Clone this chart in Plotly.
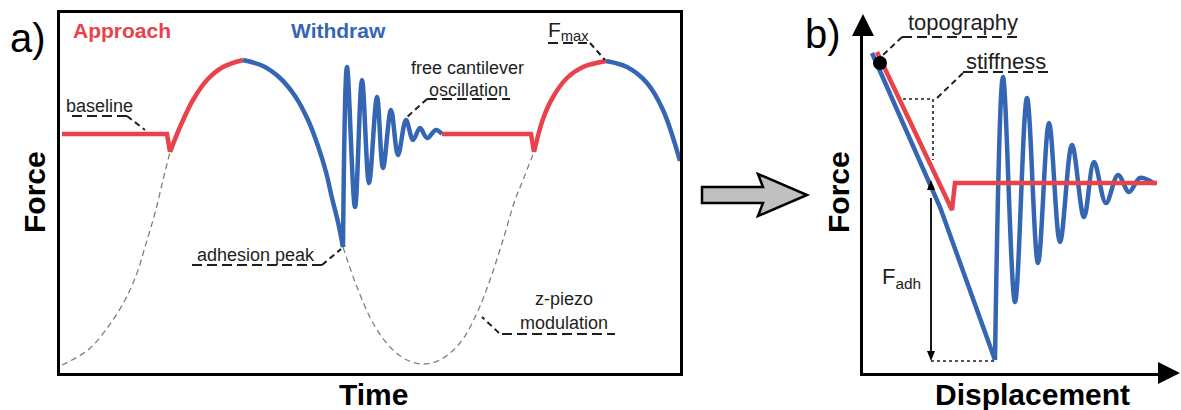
import plotly.graph_objects as go

W, H = 1181, 410
RED = "#e8424b"
BLUE = "#3566b4"
GREY = "#808080"
INK = "#1e1e1e"
FONT = "Liberation Sans, Arial, Helvetica, sans-serif"

# ---------------- Panel a (Time vs Force, arbitrary units) ----------------
piezo_left_t = [2, 28, 48, 65, 77, 85, 95, 103, 110]
piezo_left_f = [8, 23, 46, 73, 100, 126, 160, 193, 221]
piezo_right_t = [283, 297, 313, 330, 347, 363, 380, 400, 417, 430, 443, 455, 463, 474]
piezo_right_f = [126, 86, 50, 26, 13, 9, 13, 30, 60, 93, 133, 173, 193, 221]

base1_t = [2, 107, 110]
base1_f = [239, 239, 221]
approach1_t = [110, 120, 133, 147, 163, 183]
approach1_f = [221, 246, 273, 293, 306, 313]
withdraw1_t = [183, 203, 220, 235, 248, 258, 266, 272, 278, 283]
withdraw1_f = [313, 307, 295, 277, 253, 227, 201, 175, 151, 126]
osc_a_t = [283, 287, 295, 302, 309, 317, 323, 331, 338, 346, 353, 360, 367, 376, 382]
osc_a_f = [126, 306, 166, 293, 190, 276, 205, 263, 218, 253, 233, 245, 235, 243, 239]
base2_t = [382, 471, 474]
base2_f = [239, 239, 221]
approach2_t = [474, 483, 493, 507, 523, 546]
approach2_f = [221, 254, 276, 295, 306, 312]
withdraw2_t = [546, 567, 587, 603, 620]
withdraw2_f = [312, 306, 290, 263, 212]

# ---------------- Panel b (Displacement vs Force) ----------------
approach_b_d = [14, 89, 92, 294]
approach_b_f = [321, 163, 190, 190]
withdraw_b_d = [9, 77, 132]
withdraw_b_f = [320, 166, 13]
osc_b_d = [132, 140, 152, 164, 175, 186, 197, 209, 221, 231, 243, 255, 266, 277, 292]
osc_b_f = [13, 296, 71, 275, 110, 250, 131, 228, 156, 211, 170, 198, 181, 195, 189]
contact_d = [17]
contact_f = [310]

fig = go.Figure()

def add(x, y, color, width=4.5, shape="linear", xa="x", ya="y", dash=None):
    fig.add_trace(go.Scatter(
        x=x, y=y, mode="lines", xaxis=xa, yaxis=ya,
        line=dict(color=color, width=width, shape=shape, smoothing=1.0, dash=dash),
        hoverinfo="skip", showlegend=False))

# panel a traces
add(piezo_left_t, piezo_left_f, GREY, 1.3, "spline", dash="6px,4px")
add(piezo_right_t, piezo_right_f, GREY, 1.3, "spline", dash="6px,4px")
add(base1_t, base1_f, RED)
add(approach1_t, approach1_f, RED, shape="spline")
add(withdraw1_t, withdraw1_f, BLUE, shape="spline")
add(osc_a_t, osc_a_f, BLUE, shape="spline")
add(base2_t, base2_f, RED)
add(approach2_t, approach2_f, RED, shape="spline")
add(withdraw2_t, withdraw2_f, BLUE, shape="spline")

# panel b traces
add(withdraw_b_d, withdraw_b_f, BLUE, 4.5, "linear", "x2", "y2")
add(osc_b_d, osc_b_f, BLUE, 4.5, "spline", "x2", "y2")
add(approach_b_d, approach_b_f, RED, 4.5, "linear", "x2", "y2")
fig.add_trace(go.Scatter(x=contact_d, y=contact_f, mode="markers", xaxis="x2", yaxis="y2",
                         marker=dict(color="black", size=14), hoverinfo="skip", showlegend=False))

def px(xp):
    return xp / W

def py(yp):
    return 1 - yp / H

shapes = []

def seg(x0, y0, x1, y1, xref="x", yref="y", dash="10px,5px", width=2, color=INK):
    shapes.append(dict(type="line", x0=x0, y0=y0, x1=x1, y1=y1, xref=xref, yref=yref,
                       line=dict(color=color, width=width, dash=dash), layer="above"))

# leader lines panel a
seg(12, 257, 67, 257); seg(67, 257, 85, 243, dash="6px,4px")
seg(367, 274, 450, 274); seg(367, 274, 347, 256, dash="6px,4px")
seg(488, 330, 527, 330); seg(530, 330, 545, 313, dash="6px,4px")
seg(132, 108, 262, 108); seg(262, 108, 281, 124, dash="6px,4px")
seg(442, 39, 555, 39); seg(439, 40, 422, 56, dash="6px,4px")

# leader lines panel b
seg(39, 336, 159, 336, "x2", "y2"); seg(39, 336, 20, 318, "x2", "y2", dash="6px,4px")
seg(100, 301, 187, 301, "x2", "y2"); seg(100, 300, 72, 273, "x2", "y2", dash="6px,4px")
seg(40, 274, 70, 274, "x2", "y2", dash="dot", width=1.6)
seg(70, 274, 70, 213, "x2", "y2", dash="dot", width=1.6)
seg(68, 12, 132, 12, "x2", "y2", dash="dot", width=1.6)
# F_adh double arrow
seg(68, 175, 68, 21, "x2", "y2", dash="solid", width=1.8, color="black")

def tri(points, color="black", lw=0, linecolor="black"):
    path = "M " + " L ".join(f"{px(a):.5f},{py(b):.5f}" for a, b in points) + " Z"
    shapes.append(dict(type="path", path=path, xref="paper", yref="paper",
                       fillcolor=color, line=dict(color=linecolor, width=lw), layer="above"))

# F_adh arrowheads (pixel positions)
tri([(927, 190), (935, 190), (931, 180)])
tri([(927, 351), (935, 351), (931, 361)])
# axis arrowheads for panel b
tri([(852, 36), (874, 36), (863, 14)])
tri([(1158, 362), (1158, 384), (1180, 373)])
# big grey arrow between panels
tri([(702, 187), (763, 187), (758, 174), (807, 195), (758, 216), (763, 203), (702, 203)],
    color="#c0c0c0", lw=2.5, linecolor="black")

ann = []

def text(x, y, s, size=18, color=INK, xref="x", yref="y", xanchor="center", angle=0):
    ann.append(dict(x=x, y=y, text=s, xref=xref, yref=yref, showarrow=False,
                    xanchor=xanchor, yanchor="middle", textangle=angle,
                    font=dict(family=FONT, size=size, color=color)))

text(61.5, 343, "<b>Approach</b>", 21, RED)
text(278.5, 343, "<b>Withdraw</b>", 21, BLUE)
text(39.5, 267, "baseline", 18)
text(407, 305, "free cantilever", 18)
text(408, 283, "oscillation", 18)
text(486, 342, "F<sub>max</sub>", 21, xanchor="left")
text(195.5, 118, "adhesion peak", 18)
text(504, 74, "z-piezo", 18)
text(504, 50, "modulation", 18)

text(px(962.5), py(22), "topography", 22, xref="paper", yref="paper")
text(143, 311, "stiffness", 22, xref="x2", yref="y2")
text(17, 95, "F<sub>adh</sub>", 22, xref="x2", yref="y2", xanchor="left")

text(px(28), py(38), "a)", 40, "black", "paper", "paper")
text(px(823), py(34), "b)", 40, "black", "paper", "paper")
text(px(34), py(192), "<b>Force</b>", 30, "black", "paper", "paper", angle=-90)
text(px(838), py(192), "<b>Force</b>", 30, "black", "paper", "paper", angle=-90)
text(px(373), py(394), "<b>Time</b>", 30, "black", "paper", "paper")
text(px(1032), py(394), "<b>Displacement</b>", 30, "black", "paper", "paper")

noax = dict(showgrid=False, zeroline=False, showticklabels=False, ticks="", fixedrange=True)

fig.update_layout(
    width=W, height=H, margin=dict(l=0, r=0, t=0, b=0),
    paper_bgcolor="white", plot_bgcolor="rgba(0,0,0,0)",
    showlegend=False, shapes=shapes, annotations=ann,
    xaxis=dict(domain=[60 / W, 680 / W], range=[0, 620], showline=True, mirror=True,
               linecolor="black", linewidth=2.5, **noax),
    yaxis=dict(domain=[37 / H, 397 / H], range=[0, 360], showline=True, mirror=True,
               linecolor="black", linewidth=2.5, **noax),
    xaxis2=dict(domain=[863 / W, 1162 / W], range=[0, 299], anchor="y2", showline=True,
                linecolor="black", linewidth=2.5, **noax),
    yaxis2=dict(domain=[37 / H, 376 / H], range=[0, 339], anchor="x2", showline=True,
                linecolor="black", linewidth=2.5, **noax),
)

fig.write_html("out.html")
